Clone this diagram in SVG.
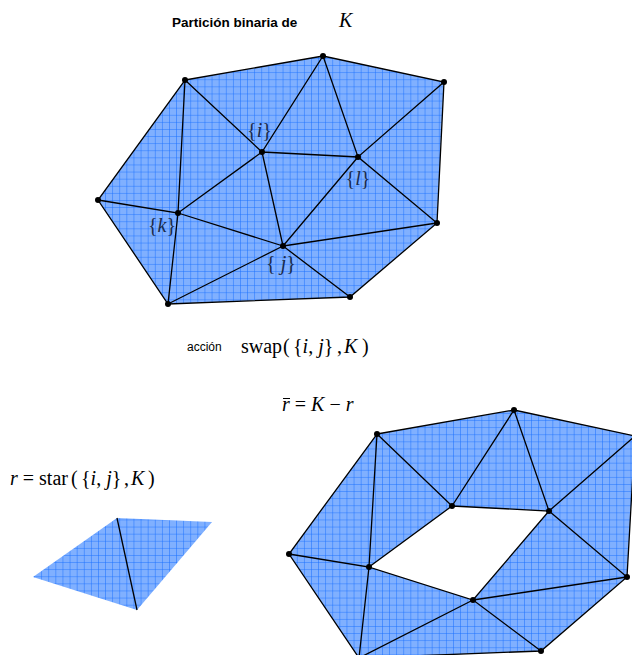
<svg xmlns="http://www.w3.org/2000/svg" width="632" height="655" viewBox="0 0 632 655">
<defs>
<pattern id="g1" patternUnits="userSpaceOnUse" width="7.1" height="7.1" x="98" y="200"><rect width="7.1" height="7.1" fill="#80b0ff"/><path d="M0 0H7.1M0 0V7.1" stroke="#1a70ff" stroke-width="1" fill="none"/></pattern>
<marker id="dot" markerWidth="6" markerHeight="6" refX="3" refY="3"><circle cx="3" cy="3" r="3"/></marker>
</defs>
<style>
.mesh{fill:url(#g1);stroke:none}
.e{stroke:#000;stroke-width:1.3;fill:none}
.s{font-family:"Liberation Serif",serif;font-size:20px;fill:#000}
.i{font-style:italic}
.h{font-family:"Liberation Sans",sans-serif;fill:#000}
.b{font-family:"Liberation Serif",serif;font-size:20px;fill:#1a2a4a}
circle{fill:#000}
</style>
<text x="172" y="27" class="h" font-size="13.5" font-weight="bold">Partición binaria de</text>
<text x="339" y="27" class="s i" font-size="19">K</text>
<g id="mesh-top">
<polygon class="mesh" points="185,80 323,56 444,82 437,223 350,297 168,304 98,200"/>
<path class="e" d="M185 80L323 56L444 82L437 223L350 297L168 304L98 200ZM185 80L262 152L323 56L358 157L444 82M262 152L358 157L437 223L283 246L350 297M262 152L178 213L185 80M262 152L283 246L358 157M283 246L168 304L178 213L98 200M178 213L283 246"/>
</g>
<g id="nodes-top">
<circle id="a1" cx="185" cy="80" r="3"/><circle id="b1" cx="323" cy="56" r="3"/><circle id="c1" cx="444" cy="82" r="3"/><circle id="d1" cx="437" cy="223" r="3"/><circle id="e1" cx="350" cy="297" r="3"/><circle id="f1" cx="168" cy="304" r="3"/><circle id="g1n" cx="98" cy="200" r="3"/><circle id="i1" cx="262" cy="152" r="3"/><circle id="l1" cx="358" cy="157" r="3"/><circle id="k1" cx="178" cy="213" r="3"/><circle id="j1" cx="283" cy="246" r="3"/>
</g>
<text x="259.500" y="137" text-anchor="middle" class="b">{<tspan class="i">i</tspan>}</text>
<text x="358" y="185" text-anchor="middle" class="b">{<tspan class="i">l</tspan>}</text>
<text x="162" y="232" text-anchor="middle" class="b">{<tspan class="i">k</tspan>}</text>
<text x="281" y="270" text-anchor="middle" class="b">{<tspan class="i"> j</tspan>}</text>
<text x="187" y="351" class="h" font-size="12">acción</text>
<text x="241" y="353" class="s">swap</text>
<text x="283" y="353" class="s" font-size="30" font-weight="100">(</text>
<text x="293" y="353" class="s">{<tspan class="i">i</tspan>, <tspan class="i">j</tspan>}</text>
<text x="337" y="353" class="s">,<tspan class="i" dx="2">K</tspan></text>
<text x="362" y="353" class="s" font-size="30">)</text>
<text x="282" y="411" class="s"><tspan class="i">r</tspan> = <tspan class="i">K</tspan> − <tspan class="i">r</tspan></text>
<rect x="283" y="398" width="7" height="1"/>
<text x="10" y="485" class="s"><tspan class="i">r</tspan> = star</text>
<text x="71" y="485" class="s" font-size="30">(</text>
<text x="81" y="485" class="s">{<tspan class="i">i</tspan>, <tspan class="i">j</tspan>}</text>
<text x="124" y="485" class="s">,<tspan class="i" dx="2">K</tspan></text>
<text x="148" y="485" class="s" font-size="30">)</text>
<g id="mesh-r">
<polygon class="mesh" points="117,518 212,522 137,610 33,577"/>
<path class="e" d="M117 518L137 610"/>
</g>
<g id="mesh-rest">
<path class="mesh" fill-rule="evenodd" d="M377 434L514 410L635 436L627 577L541 651L359 658L289 554ZM452 506L549 511L473 600L369 567Z"/>
<path class="e" d="M377 434L514 410L635 436L627 577L541 651L359 658L289 554ZM452 506L549 511L473 600L369 567ZM377 434L452 506L514 410L549 511L635 436M549 511L627 577L473 600L541 651M473 600L359 658L369 567L289 554M369 567L377 434"/>
</g>
<g id="nodes-rest">
<circle id="a2" cx="377" cy="434" r="3"/><circle id="b2" cx="514" cy="410" r="3"/><circle id="d2" cx="627" cy="577" r="3"/><circle id="e2" cx="541" cy="651" r="3"/><circle id="f2" cx="359" cy="658" r="3"/><circle id="g2" cx="289" cy="554" r="3"/><circle id="i2" cx="452" cy="506" r="3"/><circle id="l2" cx="549" cy="511" r="3"/><circle id="k2" cx="369" cy="567" r="3"/><circle id="j2" cx="473" cy="600" r="3"/>
</g>
</svg>
